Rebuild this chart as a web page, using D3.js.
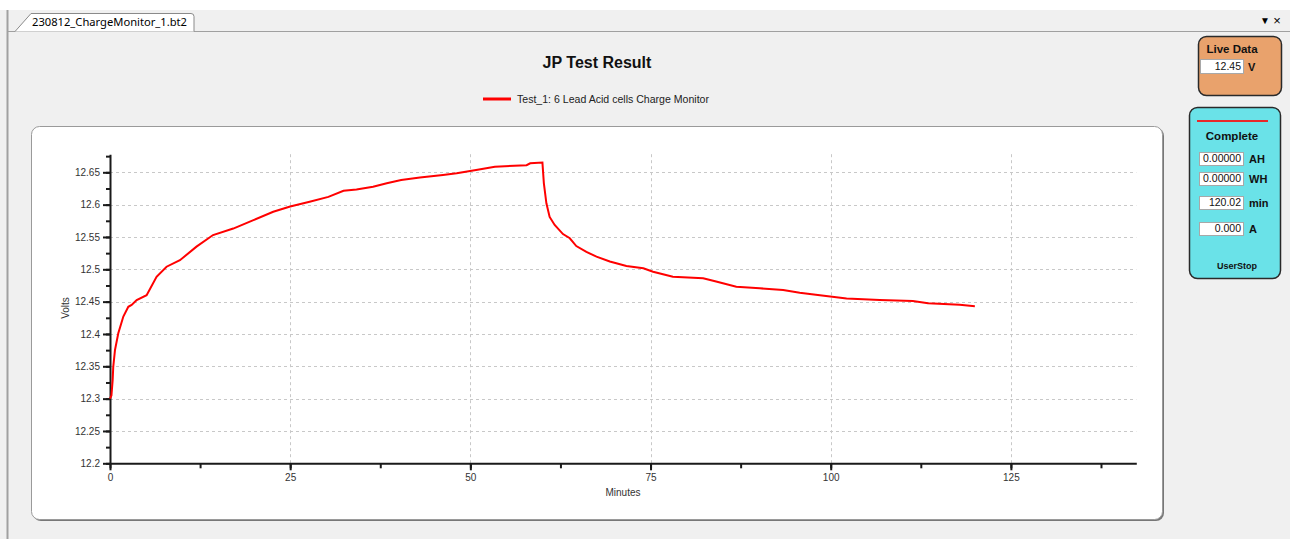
<!DOCTYPE html>
<html lang="en">

<head>
  <meta charset="utf-8">
  <title>JP Test Result</title>
  <script src="https://d3js.org/d3.v7.min.js"></script>
  <style>
    body { margin: 0; background: #f0f0f0; }
    svg { display: block; font-family: "Liberation Sans", Arial, sans-serif; }
    .grid line { stroke: #c8c8c8; stroke-dasharray: 3,3; }
    .axis path, .axis line { stroke: #1a1a1a; }
    .axis text { fill: #333; font-size: 10px; }
    .box text { font-weight: bold; fill: #111; }
  </style>
</head>

<body>
  <script>
    // minutes / volts
    var minutes = [0, 0.2, 0.37, 0.45, 0.69, 1.15, 1.85, 2.54, 3.0, 3.7, 5.08, 6.46, 7.85, 9.7, 12.0,
      14.3, 17.1, 19.9, 22.65, 25, 27.7, 30.3, 32.4, 34.2, 36.5, 38.4, 40.4, 43.0, 46.2, 48.1, 50.8,
      53.4, 57.8, 58.3, 60.0, 60.2, 60.55, 61.0, 61.7, 62.85, 63.8, 64.7, 66.1, 67.5, 69.35, 71.65,
      74.0, 75.35, 78.1, 82.3, 84.1, 86.9, 90.15, 93.4, 95.7, 98.5, 102.2, 106.8, 111.4, 113.5,
      117.9, 120.0];
    var volts = [12.300, 12.305, 12.329, 12.349, 12.375, 12.401, 12.427, 12.442, 12.445, 12.4525,
      12.46, 12.4885, 12.504, 12.514, 12.535, 12.553, 12.563, 12.576, 12.589, 12.597, 12.6045,
      12.612, 12.6215, 12.6235, 12.6277, 12.633, 12.638, 12.642, 12.646, 12.6485, 12.6535, 12.6586,
      12.661, 12.664, 12.665, 12.633, 12.602, 12.581, 12.5685, 12.5545, 12.548, 12.536, 12.527,
      12.5195, 12.512, 12.505, 12.5015, 12.4963, 12.4885, 12.486, 12.481, 12.473, 12.4706, 12.468,
      12.4638, 12.460, 12.455, 12.4525, 12.451, 12.4475, 12.445, 12.443];
    var xTicks = [0, 25, 50, 75, 100, 125];
    var yTicks = [12.2, 12.25, 12.3, 12.35, 12.4, 12.45, 12.5, 12.55, 12.6, 12.65];
    var seriesName = 'Test_1: 6 Lead Acid cells Charge Monitor';
    var liveValue = '12.45', liveUnit = 'V';
    var statusFields = ['0.00000', '0.00000', '120.02', '0.000'];
    var statusUnits = ['AH', 'WH', 'min', 'A'];

    var w = 1290, h = 539;
    var svg = d3.select('body').append('svg')
      .attr('width', w)
      .attr('height', h);

    // window chrome
    svg.append('rect').attr('width', w).attr('height', h).attr('fill', '#f0f0f0');
    svg.append('rect').attr('width', w).attr('height', 10).attr('fill', '#fff');
    svg.append('line').attr('x1', 7).attr('x2', w).attr('y1', 31.5).attr('y2', 31.5)
      .attr('stroke', '#a0a0a0');
    svg.append('line').attr('x1', 7.5).attr('x2', 7.5).attr('y1', 10).attr('y2', h)
      .attr('stroke', '#a0a0a0').attr('stroke-width', 2);
    svg.append('path')
      .attr('d', 'M15,31.5 L31,13.5 L191,13.5 Q194,13.5 194,16.5 L194,31.5')
      .attr('fill', '#fff').attr('stroke', '#8a8a8a');
    svg.append('text').attr('x', 32).attr('y', 25.5)
      .attr('textLength', 155).attr('lengthAdjust', 'spacingAndGlyphs')
      .style('font-family', '"Noto Sans", "Open Sans", sans-serif').style('font-size', '11.5px')
      .attr('fill', '#000').text('230812_ChargeMonitor_1.bt2');
    svg.append('text').attr('x', 1265).attr('y', 24).attr('text-anchor', 'middle')
      .style('font-size', '10px').text('\u25BC');
    svg.append('text').attr('x', 1277).attr('y', 25).attr('text-anchor', 'middle')
      .style('font-size', '13px').text('\u00D7');

    // title and legend
    svg.append('text').attr('x', 597).attr('y', 68).attr('text-anchor', 'middle')
      .style('font-size', '16px').style('font-weight', 'bold').attr('fill', '#111')
      .text('JP Test Result');
    svg.append('line').attr('x1', 483).attr('x2', 511).attr('y1', 99).attr('y2', 99)
      .attr('stroke', '#ff0000').attr('stroke-width', 3);
    svg.append('text').attr('x', 517).attr('y', 102.5)
      .attr('textLength', 192).attr('lengthAdjust', 'spacingAndGlyphs')
      .style('font-size', '10.5px').attr('fill', '#222').text(seriesName);

    // chart panel
    svg.append('rect').attr('x', 33).attr('y', 128).attr('width', 1131).attr('height', 393)
      .attr('rx', 8).attr('fill', '#777');
    svg.append('rect').attr('x', 31.5).attr('y', 126.5).attr('width', 1131).attr('height', 393)
      .attr('rx', 8).attr('fill', '#fff').attr('stroke', '#9a9a9a');

    var x = d3.scaleLinear().domain([0, 142.4]).range([110, 1136.3]);
    var y = d3.scaleLinear().domain([12.2, 12.678]).range([463.3, 154.2]);

    // grid
    svg.append('g').attr('class', 'grid')
      .selectAll('line').data(yTicks.slice(1)).enter().append('line')
      .attr('x1', x(0)).attr('x2', x(142.4))
      .attr('y1', function(d) { return Math.round(y(d)) + 0.5; })
      .attr('y2', function(d) { return Math.round(y(d)) + 0.5; });
    svg.append('g').attr('class', 'grid')
      .selectAll('line').data(xTicks.slice(1)).enter().append('line')
      .attr('y1', y(12.678)).attr('y2', y(12.2))
      .attr('x1', function(d) { return Math.round(x(d)) + 0.5; })
      .attr('x2', function(d) { return Math.round(x(d)) + 0.5; });

    // axes: minor ticks first, then majors with labels
    var xMinor = d3.range(0, 142.4, 12.5);
    var yMinor = d3.range(12.2, 12.68, 0.025);
    svg.append('g').attr('class', 'axis')
      .attr('transform', 'translate(0,' + y(12.2) + ')')
      .call(d3.axisBottom(x).tickValues(xMinor).tickSize(5).tickSizeOuter(0).tickFormat(''))
      .call(function(g) { g.selectAll('line').attr('stroke-width', 2); g.select('.domain').attr('stroke-width', 2); });
    svg.append('g').attr('class', 'axis')
      .attr('transform', 'translate(0,' + y(12.2) + ')')
      .call(d3.axisBottom(x).tickValues(xTicks).tickSize(7).tickSizeOuter(0).tickPadding(4))
      .call(function(g) { g.select('.domain').remove(); g.selectAll('line').attr('stroke-width', 2); });
    svg.append('g').attr('class', 'axis')
      .attr('transform', 'translate(' + x(0) + ',0)')
      .call(d3.axisLeft(y).tickValues(yMinor).tickSize(4).tickSizeOuter(0).tickFormat(''))
      .call(function(g) { g.selectAll('line').attr('stroke-width', 2); g.select('.domain').attr('stroke-width', 2); });
    svg.append('g').attr('class', 'axis')
      .attr('transform', 'translate(' + x(0) + ',0)')
      .call(d3.axisLeft(y).tickValues(yTicks).tickSize(7).tickPadding(3).tickFormat(d3.format('')))
      .call(function(g) { g.select('.domain').remove(); g.selectAll('line').attr('stroke-width', 2); });

    svg.append('text').attr('x', 623).attr('y', 496).attr('text-anchor', 'middle')
      .style('font-size', '10px').attr('fill', '#333').text('Minutes');
    svg.append('text').attr('transform', 'translate(69,308) rotate(-90)').attr('text-anchor', 'middle')
      .style('font-size', '10px').attr('fill', '#333').text('Volts');

    // trace
    var pts = minutes.map(function(t, i) { return [t, volts[i]]; });
    svg.append('path')
      .datum(pts)
      .attr('fill', 'none')
      .attr('stroke', '#ff0000')
      .attr('stroke-width', 2)
      .attr('d', d3.line().x(function(d) { return x(d[0]); }).y(function(d) { return y(d[1]); }));

    // side boxes
    function inputBox(g, x0, y0, bw, bh, txt) {
      g.append('rect').attr('x', x0 + 0.5).attr('y', y0 + 0.5).attr('width', bw).attr('height', bh)
        .attr('fill', '#fff').attr('stroke', '#a8a8a8');
      g.append('text').attr('x', x0 + bw - 2).attr('y', y0 + bh - 3).attr('text-anchor', 'end')
        .style('font-size', '10.5px').style('font-weight', 'normal').attr('fill', '#333').text(txt);
    }

    var live = svg.append('g').attr('class', 'box');
    live.append('rect').attr('x', 1198.5).attr('y', 36.5).attr('width', 83).attr('height', 59)
      .attr('rx', 8).attr('fill', '#e9a26c').attr('stroke', '#2a2a2a').attr('stroke-width', 1.5);
    live.append('text').attr('x', 1232).attr('y', 53).attr('text-anchor', 'middle')
      .style('font-size', '11.5px').text('Live Data');
    inputBox(live, 1200, 59, 43, 14, liveValue);
    live.append('text').attr('x', 1248).attr('y', 71).style('font-size', '11px').text(liveUnit);

    var stat = svg.append('g').attr('class', 'box');
    stat.append('rect').attr('x', 1189.5).attr('y', 107.5).attr('width', 91).attr('height', 171)
      .attr('rx', 8).attr('fill', '#6ae2e8').attr('stroke', '#2a2a2a').attr('stroke-width', 1.5);
    stat.append('line').attr('x1', 1197).attr('x2', 1268).attr('y1', 121).attr('y2', 121)
      .attr('stroke', '#e8282a').attr('stroke-width', 2);
    stat.append('text').attr('x', 1232).attr('y', 140).attr('text-anchor', 'middle')
      .style('font-size', '11.5px').text('Complete');
    var rowY = [152, 172, 196, 222];
    statusFields.forEach(function(v, i) {
      inputBox(stat, 1199, rowY[i], 44, 13, v);
      stat.append('text').attr('x', 1249).attr('y', rowY[i] + 11).style('font-size', '11px').text(statusUnits[i]);
    });
    stat.append('text').attr('x', 1237).attr('y', 269).attr('text-anchor', 'middle')
      .style('font-size', '9px').text('UserStop');
  </script>
</body>

</html>
